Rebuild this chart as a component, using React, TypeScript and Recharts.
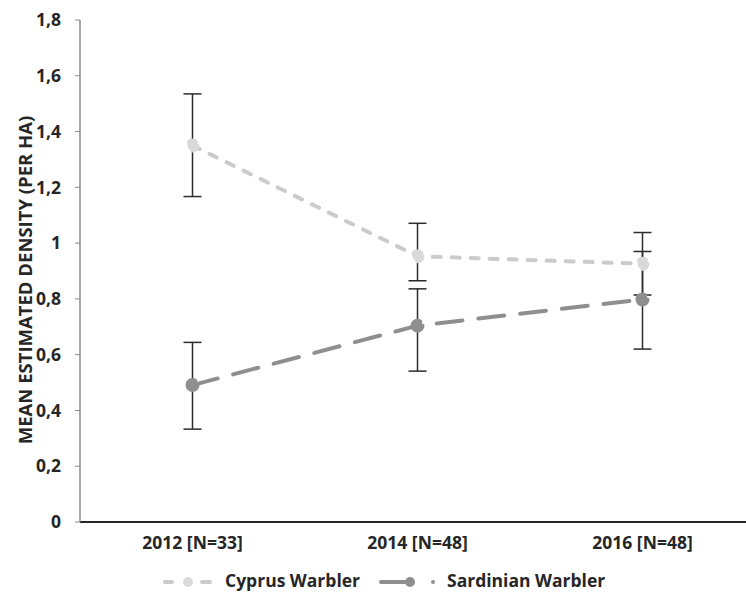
import React from 'react';
import { LineChart, Line, XAxis, YAxis, ErrorBar } from 'recharts';

const years = ['2012 [N=33]', '2014 [N=48]', '2016 [N=48]'];
const cyprusMean = [1.35, 0.953, 0.926];
const cyprusErr = [[0.183, 0.185], [0.088, 0.118], [0.112, 0.112]];
const sardinianMean = [0.491, 0.704, 0.798];
const sardinianErr = [[0.158, 0.153], [0.163, 0.132], [0.178, 0.172]];
const yTicks = [0, 0.2, 0.4, 0.6, 0.8, 1, 1.2, 1.4, 1.6, 1.8];

const data = years.map((year, i) => ({
  year,
  cyprus: cyprusMean[i],
  cyprusErr: cyprusErr[i],
  sardinian: sardinianMean[i],
  sardinianErr: sardinianErr[i],
}));

const FONT = '"Open Sans", sans-serif';
const CY = '#cbcbcb';
const SA = '#8f8f8f';

const fmt = (v: number) => String(Number(v.toFixed(1))).replace('.', ',');

export default function App() {
  return (
    <div style={{ position: 'fixed', left: 0, top: 0, width: 746, height: 593, overflow: 'hidden', background: '#fff' }}>
      <LineChart width={770} height={593} data={data} margin={{ top: 20, right: 15, left: 30, bottom: 0 }}>
        <XAxis
          dataKey="year"
          height={71}
          padding={{ left: 112.5, right: 112.5 }}
          tickLine={false}
          tickMargin={9}
          axisLine={{ stroke: '#262626', strokeWidth: 2 }}
          tick={{ fill: '#262626', fontFamily: FONT, fontWeight: 700, fontSize: 17.5 }}
        />
        <YAxis
          width={50}
          domain={[0, 1.8]}
          ticks={yTicks}
          interval={0}
          tickFormatter={fmt}
          tickSize={5}
          tickMargin={14}
          axisLine={{ stroke: '#8a8a8a', strokeWidth: 1.5 }}
          tickLine={{ stroke: '#8a8a8a' }}
          tick={{ fill: '#262626', fontFamily: FONT, fontWeight: 700, fontSize: 17.5 }}
        />
        <Line
          dataKey="cyprus"
          stroke={CY}
          strokeWidth={4}
          strokeDasharray="8 11"
          strokeLinecap="round"
          dot={{ r: 5, fill: '#d9d9d9', stroke: '#d9d9d9' }}
          isAnimationActive={false}
        >
          <ErrorBar dataKey="cyprusErr" direction="y" width={9} stroke="#2b2b2b" strokeWidth={1.5} />
        </Line>
        <Line
          dataKey="sardinian"
          stroke={SA}
          strokeWidth={4}
          strokeDasharray="26 16"
          strokeLinecap="round"
          dot={{ r: 5, fill: SA, stroke: SA }}
          isAnimationActive={false}
        >
          <ErrorBar dataKey="sardinianErr" direction="y" width={9} stroke="#2b2b2b" strokeWidth={1.5} />
        </Line>
      </LineChart>
      <svg width={746} height={593} style={{ position: 'absolute', left: 0, top: 0, pointerEvents: 'none' }}>
        <text
          x={0}
          y={0}
          transform="translate(32,280) rotate(-90)"
          textAnchor="middle"
          fontFamily={FONT}
          fontWeight={700}
          fontSize={18.5}
          fill="#262626"
        >
          MEAN ESTIMATED DENSITY (PER HA)
        </text>
        <g>
          <line x1={165} y1={582} x2={172} y2={582} stroke={CY} strokeWidth={4} strokeLinecap="round" />
          <circle cx={188} cy={582} r={5} fill="#d9d9d9" />
          <line x1={202} y1={582} x2={210} y2={582} stroke={CY} strokeWidth={4} strokeLinecap="round" />
          <text x={225} y={587} fontFamily={FONT} fontWeight={700} fontSize={17.5} fill="#262626">Cyprus Warbler</text>
          <line x1={381} y1={582} x2={408} y2={582} stroke={SA} strokeWidth={4} strokeLinecap="round" />
          <circle cx={410} cy={582} r={5} fill={SA} />
          <circle cx={433} cy={582} r={2} fill={SA} />
          <text x={447} y={587} fontFamily={FONT} fontWeight={700} fontSize={17.5} fill="#262626">Sardinian Warbler</text>
        </g>
      </svg>
    </div>
  );
}
